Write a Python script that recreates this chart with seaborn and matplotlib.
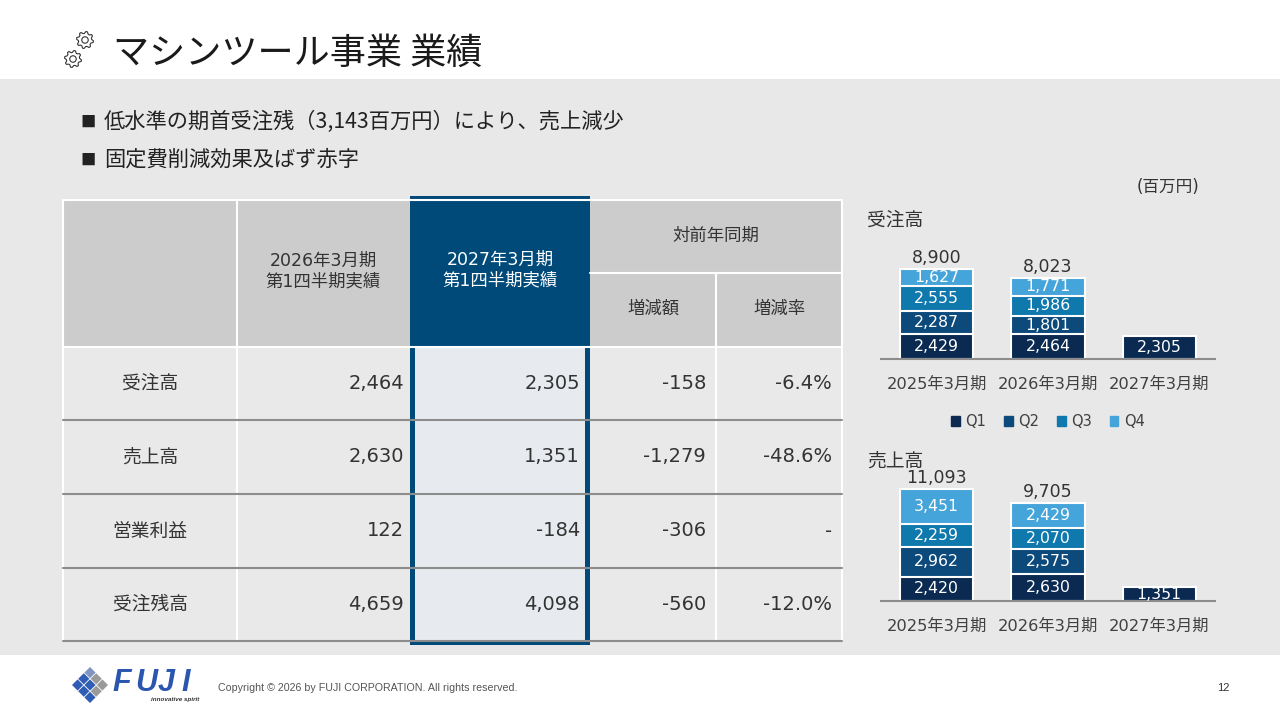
import numpy as np
import pandas as pd
import seaborn as sns
import matplotlib.pyplot as plt
import matplotlib.patches as mpatches

sns.set_style('white')
# Verdana-like latin + gothic CJK, close to the slide's Meiryo
plt.rcParams['font.family'] = ['DejaVu Sans', 'Noto Sans CJK JP']
JP = ['Noto Sans CJK JP', 'DejaVu Sans']

# chart data (百万円)
periods = ['2025年3月期', '2026年3月期', '2027年3月期']
quarters = ['Q1', 'Q2', 'Q3', 'Q4']
q_colors = ['#0b2a52', '#0d4a7c', '#0f78ad', '#45a4da']

orders_q1 = [2429, 2464, 2305]
orders_q2 = [2287, 1801, np.nan]
orders_q3 = [2555, 1986, np.nan]
orders_q4 = [1627, 1771, np.nan]
orders_total = [8900, 8023, np.nan]

sales_q1 = [2420, 2630, 1351]
sales_q2 = [2962, 2575, np.nan]
sales_q3 = [2259, 2070, np.nan]
sales_q4 = [3451, 2429, np.nan]
sales_total = [11093, 9705, np.nan]

# table data
row_labels = ['受注高', '売上高', '営業利益', '受注残高']
prev_q1 = [2464, 2630, 122, 4659]
curr_q1 = [2305, 1351, -184, 4098]
diff_q1 = [-158, -1279, -306, -560]
rate_q1 = ['-6.4%', '-48.6%', '-', '-12.0%']

bullets = ['低水準の期首受注残（3,143百万円）により、売上減少',
           '固定費削減効果及ばず赤字']

TXT = '#333333'

fig = plt.figure(figsize=(12.8, 7.2), dpi=100, facecolor='white')
bg = fig.add_axes([0, 0, 1, 1])
bg.set_xlim(0, 1280)
bg.set_ylim(720, 0)
bg.axis('off')

# gray body band
bg.add_patch(mpatches.Rectangle((0, 79), 1280, 576, color='#e8e8e8', lw=0))


def gear(ax, cx, cy, r, teeth=8):
    n = teeth * 4
    ang = np.linspace(0, 2 * np.pi, n, endpoint=False) + np.pi / n
    rad = np.tile([r, r, r * 0.78, r * 0.78], teeth)
    pts = np.column_stack([cx + rad * np.cos(ang), cy + rad * np.sin(ang)])
    ax.add_patch(mpatches.Polygon(pts, closed=True, fill=False, ec='#333333', lw=0.8))
    ax.add_patch(mpatches.Circle((cx, cy), r * 0.38, fill=False, ec='#333333', lw=0.8))


gear(bg, 85, 40, 8.5)
gear(bg, 73, 59, 8.5)
bg.text(113, 54, 'マシンツール事業 業績', fontsize=26, color='#1a1a1a', va='center', ha='left', family=JP)

for i, b in enumerate(bullets):
    yb = 122 + i * 38
    bg.text(80, yb, '■', fontsize=11, color='#222222', va='center', ha='left', family=JP)
    bg.text(104, yb, b, fontsize=15.3, color='#222222', va='center', ha='left', family=JP)

# ---- table ----
col_x = [63, 237, 410, 590, 716, 842]
row_y = [200, 273, 347, 420, 494, 568, 641]
blue = '#004a7a'

bg.add_patch(mpatches.Rectangle((63, 200), 779, 147, color='#cccccc', lw=0))
bg.add_patch(mpatches.Rectangle((63, 347), 779, 294, color='#e9e9e9', lw=0))
bg.add_patch(mpatches.Rectangle((415, 347), 170, 294, color='#e7ebef', lw=0))
# white grid lines
for x0 in [63, 237, 842]:
    bg.plot([x0, x0], [200, 641], color='white', lw=1.5)
bg.plot([716, 716], [273, 641], color='white', lw=1.5)
bg.plot([63, 842], [200, 200], color='white', lw=1.5)
bg.plot([590, 842], [273, 273], color='white', lw=1.5)
bg.plot([63, 842], [347, 347], color='white', lw=1.5)
for y0 in row_y[3:]:
    bg.plot([63, 842], [y0, y0], color='#8c8c8c', lw=1.5)
# highlighted column
bg.add_patch(mpatches.Rectangle((410, 196), 180, 151, color=blue, lw=0))
bg.add_patch(mpatches.Rectangle((410, 196), 5, 449, color=blue, lw=0))
bg.add_patch(mpatches.Rectangle((585, 196), 5, 449, color=blue, lw=0))
bg.add_patch(mpatches.Rectangle((410, 640), 180, 5, color=blue, lw=0))

bg.text(323, 271, '2026年3月期\n第1四半期実績', fontsize=12.5, color=TXT, ha='center', va='center', linespacing=1.15)
bg.text(500, 270, '2027年3月期\n第1四半期実績', fontsize=12.5, color='white', ha='center', va='center', linespacing=1.15)
bg.text(716, 236, '対前年同期', fontsize=12.5, color=TXT, ha='center', va='center')
bg.text(653, 309, '増減額', fontsize=12.5, color=TXT, ha='center', va='center')
bg.text(779, 309, '増減率', fontsize=12.5, color=TXT, ha='center', va='center')

for i, lab in enumerate(row_labels):
    yc = (row_y[i + 2] + row_y[i + 3]) / 2
    bg.text(150, yc, lab, fontsize=13.5, color=TXT, ha='center', va='center')
    bg.text(404, yc, f'{prev_q1[i]:,}', fontsize=14, color=TXT, ha='right', va='center')
    bg.text(580, yc, f'{curr_q1[i]:,}', fontsize=14, color=TXT, ha='right', va='center')
    bg.text(706, yc, f'{diff_q1[i]:,}', fontsize=14, color=TXT, ha='right', va='center')
    bg.text(832, yc, rate_q1[i], fontsize=14, color=TXT, ha='right', va='center')

bg.text(1199, 187, '(百万円)', fontsize=12, color=TXT, ha='right', va='center')
bg.text(867, 220, '受注高', fontsize=13.5, color=TXT, ha='left', va='center')
bg.text(867, 461, '売上高', fontsize=13.5, color=TXT, ha='left', va='center')

# ---- footer ----
cx, cy, s, h = 90, 685, 6.2, 5.6
for i in range(3):
    for j in range(3):
        px, py = cx + (i - j) * s, cy + (i + j - 2) * s
        c = '#9a9a9a' if (i, j) in [(1, 0), (2, 0), (2, 1)] else ('#7f95bf' if (i, j) == (0, 0) else '#2f5db5')
        bg.add_patch(mpatches.Polygon([[px, py - h], [px + h, py], [px, py + h], [px - h, py]], color=c, lw=0))
for k, ch in enumerate('FUJI'):
    bg.text(112 + k * 23, 683, ch, fontsize=22, fontweight='bold', fontstyle='italic',
            color='#2a56b0', family='Liberation Sans', ha='left', va='center')
bg.text(175, 699, 'innovative spirit', fontsize=4.5, fontweight='bold', fontstyle='italic',
        color='#333333', family='Liberation Sans', ha='center', va='center')
bg.text(218, 688, 'Copyright © 2026 by FUJI CORPORATION. All rights reserved.', fontsize=7.7,
        color='#555555', family='Liberation Sans', ha='left', va='center')
bg.text(1230, 688, '12', fontsize=8, color='#333333', family='Liberation Sans', ha='right', va='center')


# ---- stacked bar charts ----
def stacked(ax, q_lists, totals, ymax):
    df = pd.DataFrame({q: v for q, v in zip(quarters, q_lists)}, index=periods)
    cum = df.cumsum(axis=1, skipna=False)
    for q, c in zip(quarters[::-1], q_colors[::-1]):
        sns.barplot(x=periods, y=cum[q].values, order=periods, color=c, width=0.66,
                    edgecolor='white', linewidth=1.5, saturation=1, ax=ax)
    for i, p in enumerate(periods):
        for q in quarters:
            v = df.loc[p, q]
            if np.isnan(v):
                continue
            ax.text(i, cum.loc[p, q] - v / 2, f'{int(v):,}', color='white', fontsize=11.3,
                    ha='center', va='center', clip_on=True)
        if not np.isnan(totals[i]):
            ax.annotate(f'{int(totals[i]):,}', (i, cum.loc[p].max()), xytext=(0, 8),
                        textcoords='offset points', ha='center', va='center', fontsize=12.5, color=TXT)
    ax.set_xlim(-0.5, 2.5)
    ax.set_ylim(0, ymax)
    ax.set_facecolor('none')
    ax.set_yticks([])
    ax.set_xlabel('')
    ax.set_ylabel('')
    for sp in ['top', 'left', 'right']:
        ax.spines[sp].set_visible(False)
    ax.spines['bottom'].set_color('#8c8c8c')
    ax.spines['bottom'].set_linewidth(1.5)
    ax.tick_params(axis='x', length=0, pad=13, labelsize=11.7, labelcolor='#404040')


ax1 = fig.add_axes([881 / 1280, 1 - 359 / 720, 334 / 1280, 101 / 720])
stacked(ax1, [orders_q1, orders_q2, orders_q3, orders_q4], orders_total, 10000)
handles = [mpatches.Patch(color=c, label=q) for q, c in zip(quarters, q_colors)]
ax1.legend(handles=handles, loc='center', bbox_to_anchor=(0.5, -0.62), ncol=4, frameon=False,
           handlelength=0.6, handleheight=0.6, handletextpad=0.4, columnspacing=1.2,
           fontsize=10.5, labelcolor='#404040')

ax2 = fig.add_axes([881 / 1280, 1 - 601 / 720, 334 / 1280, 121 / 720])
stacked(ax2, [sales_q1, sales_q2, sales_q3, sales_q4], sales_total, 12000)

fig.savefig('out.png', dpi=100, facecolor='white')
